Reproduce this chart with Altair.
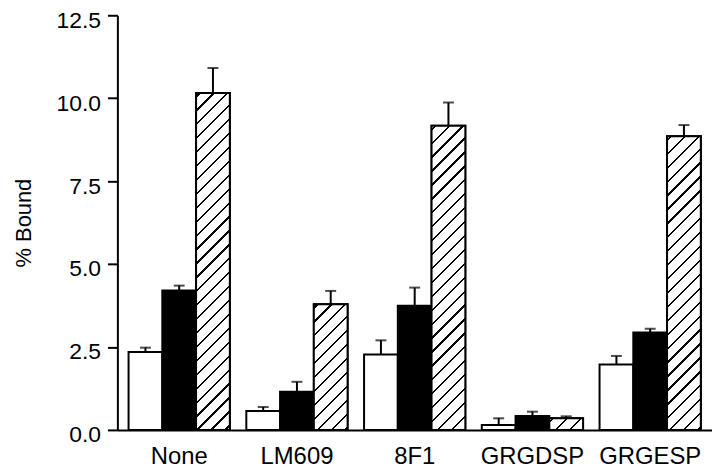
import altair as alt
import pandas as pd

categories = ["None", "LM609", "8F1", "GRGDSP", "GRGESP"]
series_order = ["open", "solid", "hatched"]

open_vals = [2.35, 0.57, 2.27, 0.15, 1.97]
open_err = [0.13, 0.12, 0.43, 0.20, 0.26]
solid_vals = [4.20, 1.15, 3.74, 0.42, 2.94]
solid_err = [0.15, 0.30, 0.55, 0.13, 0.11]
hatched_vals = [10.16, 3.79, 9.17, 0.35, 8.85]
hatched_err = [0.75, 0.40, 0.70, 0.06, 0.34]

y_ticks = [0, 2.5, 5.0, 7.5, 10.0, 12.5]

rows = []
for name, vals, errs in [("open", open_vals, open_err),
                         ("solid", solid_vals, solid_err),
                         ("hatched", hatched_vals, hatched_err)]:
    for c, v, e in zip(categories, vals, errs):
        rows.append({"cat": c, "series": name, "value": v, "err": e, "top": v + e})
df = pd.DataFrame(rows)

W, H = 598, 417
Y_MAX = 12.5
P_IN, P_OUT = 0.14, 0.095
FONT = "Liberation Sans"

step = W / (len(categories) - P_IN + 2 * P_OUT)
bar_w = step * (1 - P_IN) / 3


def hatch_gradient(value, spacing=14.0, thick=2.3, phase=4.0):
    h = value * H / Y_MAX
    w = bar_w
    L = w + h
    k = L / (w * w + h * h)
    stops = [{"offset": 0, "color": "white"}]
    c = phase
    while c - thick / 2 < L:
        s = max(0.0, (c - thick / 2) / L)
        e = min(1.0, (c + thick / 2) / L)
        stops += [{"offset": s, "color": "white"}, {"offset": s, "color": "black"},
                  {"offset": e, "color": "black"}, {"offset": e, "color": "white"}]
        c += spacing
    stops.append({"offset": 1, "color": "white"})
    return {"gradient": "linear", "x1": 0, "y1": 0, "x2": k * w, "y2": k * h,
            "stops": stops}


x_enc = alt.X("cat:N", sort=categories,
              scale=alt.Scale(paddingInner=P_IN, paddingOuter=P_OUT),
              axis=alt.Axis(ticks=False, domainColor="black", domainWidth=2,
                            labelAngle=0, labelFontSize=24, labelFont=FONT,
                            labelColor="black", labelPadding=15, title=None))
xoff_enc = alt.XOffset("series:N", sort=series_order,
                       scale=alt.Scale(paddingInner=0, paddingOuter=0))
y_scale = alt.Scale(domain=[0, Y_MAX], nice=False)
y_axis = alt.Axis(values=y_ticks, format=".1f", grid=False, domainColor="black",
                  domainWidth=2, tickColor="black", tickWidth=2, tickSize=10,
                  labelFontSize=23, labelFont=FONT, labelColor="black",
                  labelPadding=7, labelOffset=5, title="% Bound",
                  titleFontSize=22, titleFont=FONT, titleFontWeight="normal",
                  titleColor="black", titlePadding=21)

base = alt.Chart(df).encode(x=x_enc, xOffset=xoff_enc)

bars = base.mark_bar(stroke="black", strokeWidth=2).encode(
    y=alt.Y("value:Q", scale=y_scale, axis=y_axis),
    fill=alt.Fill("series:N", scale=alt.Scale(domain=series_order,
                                              range=["white", "black", "white"]),
                  legend=None),
)

hatch_layers = []
for c, v in zip(categories, hatched_vals):
    hatch_layers.append(
        base.transform_filter((alt.datum.cat == c) & (alt.datum.series == "hatched"))
        .mark_bar(fill=hatch_gradient(v), stroke="black", strokeWidth=2)
        .encode(y=alt.Y("value:Q", scale=y_scale))
    )

err_rule = base.mark_rule(color="black", strokeWidth=2).encode(
    y=alt.Y("value:Q", scale=y_scale), y2="top:Q")
err_cap = base.mark_tick(color="black", thickness=2, size=11).encode(
    y=alt.Y("top:Q", scale=y_scale))

chart = alt.layer(err_rule, bars, *hatch_layers, err_cap).properties(
    width=W, height=H,
    autosize=alt.AutoSizeParams(type="none"),
    padding={"left": 110, "top": 6, "right": 0, "bottom": 38},
    background="white",
).configure_view(stroke=None)

chart.save("out.html", embed_options={"renderer": "svg", "actions": False})
